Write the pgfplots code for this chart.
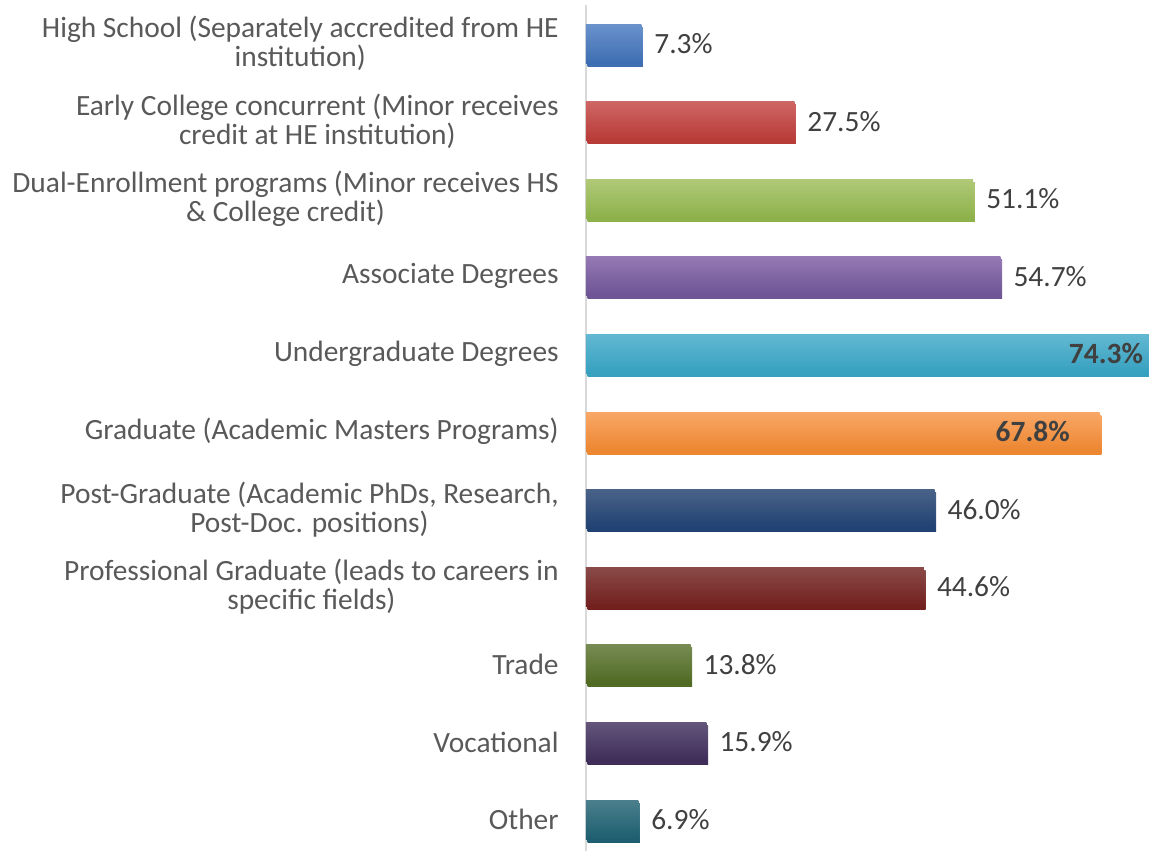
\documentclass[border=0pt]{standalone}
\usepackage{fontspec}
\setmainfont{Carlito}
\usepackage{pgfplots}
\pgfplotsset{compat=1.18}

\definecolor{labelgrey}{HTML}{595959}
\definecolor{valgrey}{HTML}{404040}
\definecolor{axisgrey}{HTML}{D9D9D9}

% top / bottom colours of the bar gradients
\definecolor{c1t}{HTML}{6A93CC}\definecolor{c1b}{HTML}{3D6DB2}
\definecolor{c2t}{HTML}{CE6664}\definecolor{c2b}{HTML}{B83A37}
\definecolor{c3t}{HTML}{B0C978}\definecolor{c3b}{HTML}{8DB14A}
\definecolor{c4t}{HTML}{9479B4}\definecolor{c4b}{HTML}{6E5395}
\definecolor{c5t}{HTML}{62B8D2}\definecolor{c5b}{HTML}{35A0BF}
\definecolor{c6t}{HTML}{F9A767}\definecolor{c6b}{HTML}{EC8630}
\definecolor{c7t}{HTML}{4A6288}\definecolor{c7b}{HTML}{1F4172}
\definecolor{c8t}{HTML}{8A4A48}\definecolor{c8b}{HTML}{72201E}
\definecolor{c9t}{HTML}{768B52}\definecolor{c9b}{HTML}{4F6A22}
\definecolor{c10t}{HTML}{63557A}\definecolor{c10b}{HTML}{3E2C58}
\definecolor{c11t}{HTML}{4C7F8C}\definecolor{c11b}{HTML}{1C5E70}

\newcommand{\lblfont}{\fontsize{14.7}{14.5}\selectfont}

\pgfplotsset{
  hbar/.style 2 args={
    draw=none, top color=#1, bottom color=#2,
    preaction={fill=black!15, transform canvas={xshift=0.8pt, yshift=-1.5pt}},
  },
}

\begin{document}
\begin{tikzpicture}
\begin{axis}[
    name=main,
    xbar, bar width=19.5pt, bar shift=0pt,
    scale only axis,
    width=281.5pt, height=423pt,
    xmin=0, xmax=74.3,
    ymin=-0.5, ymax=10.4,
    y dir=reverse,
    axis x line=none,
    axis y line=left,
    y axis line style={draw=axisgrey, line width=1pt, -},
    major tick length=0pt,
    ytick={0,...,10},
    yticklabels={
      {High School (Separately accredited from HE\\institution)},
      {Early College concurrent (Minor receives\\credit at HE institution)},
      {Dual-Enrollment programs (Minor receives HS\\\& College credit)},
      {Associate Degrees},
      {Undergraduate Degrees},
      {Graduate (Academic Masters Programs)},
      {Post-Graduate (Academic PhDs, Research,\\Post-Doc. positions)},
      {Professional Graduate (leads to careers in\\specific fields)},
      {Trade},
      {Vocational},
      {Other}},
    yticklabel style={align=center, font=\lblfont,
      text=labelgrey, inner sep=0pt, xshift=-13.5pt},
    point meta=x,
    nodes near coords={\pgfmathprintnumber[fixed,fixed zerofill,precision=1]{\pgfplotspointmeta}\%},
    nodes near coords style={font=\lblfont, text=valgrey,
      anchor=west, xshift=3pt},
    /pgf/number format/assume math mode=true,
    clip=false,
]
\addplot[hbar={c1t}{c1b}] coordinates {(7.3,0)};
\addplot[hbar={c2t}{c2b}] coordinates {(27.5,1)};
\addplot[hbar={c3t}{c3b}] coordinates {(51.1,2)};
\addplot[hbar={c4t}{c4b}] coordinates {(54.7,3)};
\addplot[hbar={c5t}{c5b}, nodes near coords style={anchor=east, xshift=-2.5pt,
    font=\lblfont\bfseries}] coordinates {(74.3,4)};
\addplot[hbar={c6t}{c6b}, nodes near coords style={anchor=east, xshift=-14.5pt,
    font=\lblfont\bfseries}] coordinates {(67.8,5)};
\addplot[hbar={c7t}{c7b}] coordinates {(46.0,6)};
\addplot[hbar={c8t}{c8b}] coordinates {(44.6,7)};
\addplot[hbar={c9t}{c9b}] coordinates {(13.8,8)};
\addplot[hbar={c10t}{c10b}] coordinates {(15.9,9)};
\addplot[hbar={c11t}{c11b}] coordinates {(6.9,10)};
\end{axis}
\pgfresetboundingbox
\useasboundingbox ([xshift=-293pt]main.south west) rectangle ([yshift=2.35pt]main.north east);
\end{tikzpicture}
\end{document}
